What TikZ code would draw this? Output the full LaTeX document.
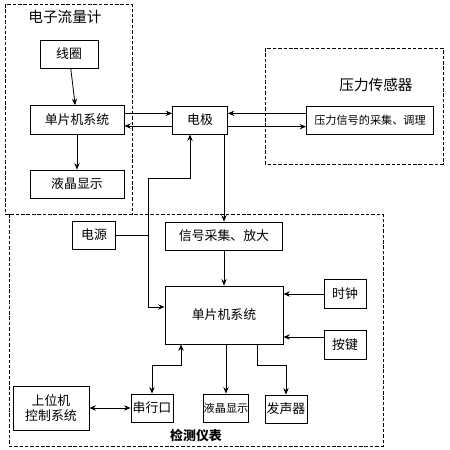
\documentclass[tikz,border=0pt]{standalone}
\usepackage{fontspec}
\setmainfont{Noto Sans CJK SC}
\usepackage{amsmath, amssymb}
\usetikzlibrary{arrows.meta}

\begin{document}
\begin{tikzpicture}[x=0.03cm, y=-0.03cm, >={Stealth[length=5.5pt, width=4.5pt]}, line width=0.7pt,
    blk/.style={draw, inner sep=0pt, font=\fontsize{11}{13}\selectfont},
    sblk/.style={draw, inner sep=0pt, font=\fontsize{9.5}{12}\selectfont},
    grp/.style={draw, dash pattern=on 3pt off 1.6pt, line width=0.6pt}]
    \useasboundingbox (0,0) rectangle (449,450);
    \draw [grp] (5,4) rectangle (132,214);
    \draw [grp] (265,48) rectangle (443,164);
    \draw [grp] (9,214) rectangle (383,446);
    \node (flowttl) at (65,17) [font=\fontsize{12.5}{14}\selectfont] {电子流量计};
    \node (pressttl) at (376,85) [font=\fontsize{12.5}{14}\selectfont] {压力传感器};
    \node (meterttl) at (196,436) [font=\bfseries\fontsize{11}{13}\selectfont] {检测仪表};
    \node (coil) at (69,54) [blk, minimum width=1.74cm, minimum height=0.84cm] {线圈};
    \node (mcuA) at (77,120) [blk, minimum width=2.82cm, minimum height=0.87cm] {单片机系统};
    \node (lcdA) at (77,184) [blk, minimum width=2.82cm, minimum height=0.84cm] {液晶显示};
    \node (elec) at (200,120) [blk, minimum width=1.65cm, minimum height=0.84cm] {电极};
    \node (psig) at (370,120) [sblk, minimum width=3.81cm, minimum height=0.84cm] {压力信号的采集、调理};
    \node (power) at (94,235) [blk, minimum width=1.29cm, minimum height=0.84cm] {电源};
    \node (sig) at (224,236) [blk, minimum width=3.51cm, minimum height=0.84cm] {信号采集、放大};
    \node (mcuB) at (224,315) [blk, minimum width=3.54cm, minimum height=1.74cm] {单片机系统};
    \node (clock) at (345,294) [blk, minimum width=1.26cm, minimum height=0.87cm] {时钟};
    \node (key) at (345,345) [blk, minimum width=1.26cm, minimum height=0.87cm] {按键};
    \node (host) at (51,408) [blk, minimum width=2.28cm, minimum height=1.32cm, align=center] {上位机\\控制系统};
    \node (uart) at (152,408) [blk, minimum width=1.26cm, minimum height=0.84cm] {串行口};
    \node (lcdB) at (226,408) [sblk, minimum width=1.26cm, minimum height=0.84cm] {液晶显示};
    \node (buzz) at (286,409) [blk, minimum width=1.26cm, minimum height=0.84cm] {发声器};
    \coordinate (jA) at (148,178);
    \coordinate (kA) at (181,365);
    \coordinate (kB) at (257,365);
    \draw [->] (coil) -- (mcuA);
    \draw [->] (mcuA) -- (lcdA);
    \draw [->] ([yshift=0.2cm]mcuA.east) -- ([yshift=0.2cm]elec.west);
    \draw [<-] ([yshift=-0.18cm]mcuA.east) -- ([yshift=-0.18cm]elec.west);
    \draw [<-] ([yshift=0.2cm]elec.east) -- ([yshift=0.2cm]psig.west);
    \draw [->] ([yshift=-0.2cm]elec.east) -- ([yshift=-0.2cm]psig.west);
    \draw [->] (elec.south -| sig.north) -- (sig.north);
    \draw [<->] ([yshift=0.24cm]mcuB.west) -| (jA) -| ([xshift=-0.3cm]elec.south);
    \draw (power.east) -- (power.east -| jA);
    \draw [->] (sig) -- (mcuB);
    \draw [->] (clock.west) -- (clock.west -| mcuB.east);
    \draw [->] ([yshift=0.24cm]key.west) -- ([yshift=0.24cm]key.west -| mcuB.east);
    \draw [<->] (host.east) -- (uart.west);
    \draw [<->] (uart.north) |- (kA) -- (kA |- mcuB.south);
    \draw [->] (mcuB.south -| lcdB.north) -- (lcdB.north);
    \draw [->] (kB |- mcuB.south) -- (kB) -| (buzz.north);
\end{tikzpicture}
\end{document}
